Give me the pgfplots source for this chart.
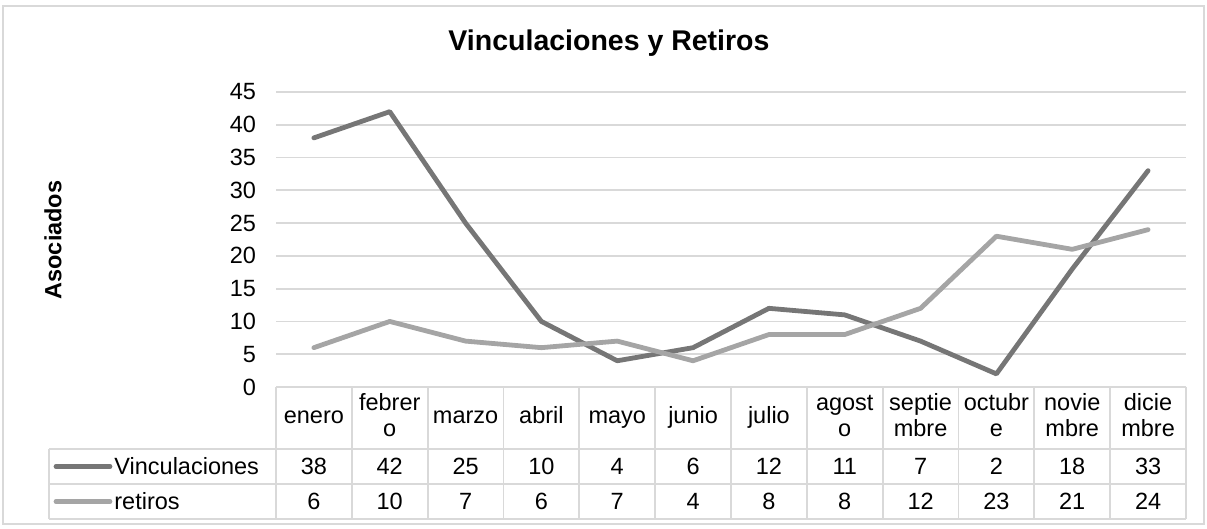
\documentclass[border=0pt]{standalone}
\usepackage{pgfplots}
\pgfplotsset{compat=1.18}
\usepackage{fontspec}
\setmainfont{Liberation Sans}
\definecolor{vinc}{RGB}{118,118,118}
\definecolor{ret}{RGB}{165,165,165}
\definecolor{gridc}{RGB}{217,217,217}
\begin{document}
\begin{tikzpicture}
\begin{scope}[x=0.5pt,y=-0.5pt]
\path[use as bounding box] (0,0) rectangle (1207,529);
\draw[gridc, line width=0.9pt] (3,6) rectangle (1204,524);
\end{scope}
\begin{axis}[at={(138pt,-193.5pt)}, anchor=south west, scale only axis,
  width=455pt, height=147.5pt,
  xmin=-0.5, xmax=11.5, ymin=0, ymax=45,
  ytick={0,5,...,45}, xtick=\empty,
  axis line style={draw=none},
  ymajorgrids, grid style={gridc, line width=0.9pt},
  major tick length=0pt, tick style={draw=none},
  /pgf/number format/assume math mode=true,
  yticklabel style={font=\fontsize{11.75}{14}\selectfont, xshift=-6.5pt},
  clip=false]
\addplot[vinc, line width=2.4pt, line cap=round, line join=round] coordinates {
 (0,38) (1,42) (2,25) (3,10) (4,4) (5,6) (6,12) (7,11) (8,7) (9,2) (10,18) (11,33)};
\addplot[ret, line width=2.4pt, line cap=round, line join=round] coordinates {
 (0,6) (1,10) (2,7) (3,6) (4,7) (5,4) (6,8) (7,8) (8,12) (9,23) (10,21) (11,24)};
\end{axis}
\begin{scope}[x=0.5pt,y=-0.5pt, font=\fontsize{11.75}{13}\selectfont]
\draw[gridc, line width=0.9pt] (276,387) -- (1186,387) (49,449) -- (1186,449) (49,484) -- (1186,484) (49,519) -- (1186,519) (49,449) -- (49,519);
\foreach \k in {0,...,12} \draw[gridc, line width=0.9pt] ({276+75.833*\k},387) -- ({276+75.833*\k},519);
\foreach \lab [count=\i from 0] in {{enero\strut},{febrer\strut\\o\strut},{marzo\strut},{abril\strut},{mayo\strut},{junio\strut},{julio\strut},{agost\strut\\o\strut},{septie\strut\\mbre\strut},{octubr\strut\\e\strut},{novie\strut\\mbre\strut},{dicie\strut\\mbre\strut}}
  \node[align=center, inner sep=0pt] at ({276+75.833*(\i+0.5)},418) {\lab};
\foreach \v [count=\i from 0] in {38,42,25,10,4,6,12,11,7,2,18,33}
  \node at ({276+75.833*(\i+0.5)},466.5) {\v};
\foreach \v [count=\i from 0] in {6,10,7,6,7,4,8,8,12,23,21,24}
  \node at ({276+75.833*(\i+0.5)},501.5) {\v};
\draw[vinc, line width=2.4pt, line cap=round] (56,466.5) -- (110,466.5);
\node[anchor=base west, inner sep=0pt] at (114,475) {Vinculaciones};
\draw[ret, line width=2.4pt, line cap=round] (56,501.5) -- (110,501.5);
\node[anchor=base west, inner sep=0pt] at (114,510) {retiros};
\node[font=\bfseries\fontsize{14.25}{17}\selectfont] at (609,43) {Vinculaciones y Retiros};
\node[rotate=90, font=\bfseries\fontsize{11.75}{13}\selectfont] at (53,240) {Asociados};
\end{scope}
\end{tikzpicture}
\end{document}
